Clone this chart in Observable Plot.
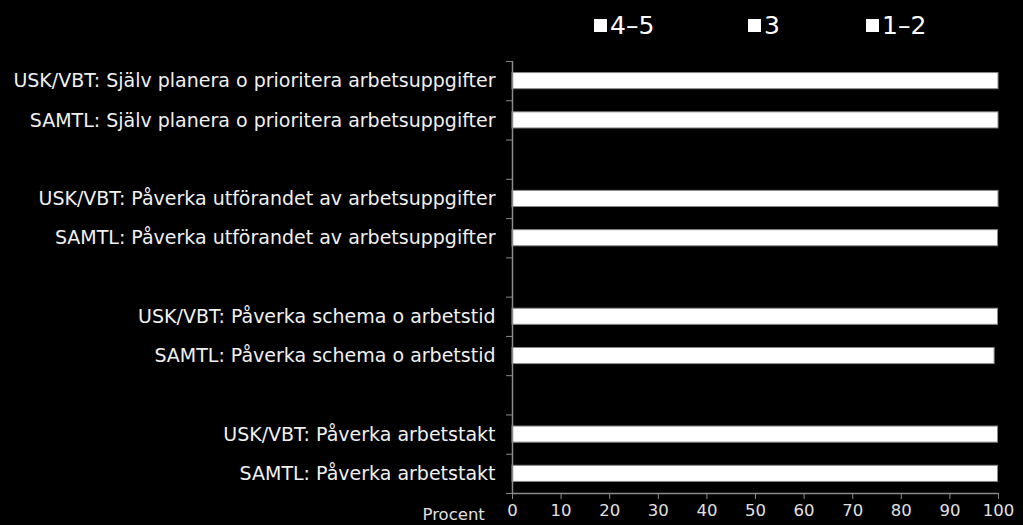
<!DOCTYPE html>
<html>
<head>
<meta charset="utf-8">
<script src="https://cdn.jsdelivr.net/npm/d3@7"></script>
<script src="https://cdn.jsdelivr.net/npm/@observablehq/plot@0.6"></script>
<style>
  html, body { margin: 0; padding: 0; background: #000; }
  #wrap { position: relative; width: 1023px; height: 525px; background: #000; }
  #legend { position: absolute; top: 10px; left: 0; width: 1023px; height: 30px;
            font-family: "DejaVu Sans", sans-serif; font-size: 25px; color: #fff; }
  .item { position: absolute; top: 0; display: flex; align-items: center; height: 30px; }
  .sw { width: 13px; height: 13px; background: #fff; margin-right: 3px; }
</style>
</head>
<body>
<div id="wrap"><div id="legend"></div></div>
<script>
// Row categories (empty strings are gaps between groups)
const categories = [
  "USK/VBT: Själv planera o prioritera arbetsuppgifter",
  "SAMTL: Själv planera o prioritera arbetsuppgifter",
  "",
  "USK/VBT: Påverka utförandet av arbetsuppgifter",
  "SAMTL: Påverka utförandet av arbetsuppgifter",
  "",
  "USK/VBT: Påverka schema o arbetstid",
  "SAMTL: Påverka schema o arbetstid",
  "",
  "USK/VBT: Påverka arbetstakt",
  "SAMTL: Påverka arbetstakt"
];
// Total of stacked series (4–5, 3, 1–2); all segments are white so only totals are readable
const totals = [100, 100, null, 100, 99.9, null, 99.9, 99.2, null, 99.9, 99.9];
const legendLabels = ["4–5", "3", "1–2"];
const xTicks = [0, 10, 20, 30, 40, 50, 60, 70, 80, 90, 100];

const rows = categories.map((c, i) => ({i, c, v: totals[i]})).filter(d => d.v != null);
const idx = categories.map((c, i) => i);
const bounds = d3.range(categories.length + 1).map(i => i - 0.5);

const font = "DejaVu Sans, sans-serif";
const plot = Plot.plot({
  width: 1023,
  height: 525,
  marginLeft: 512,
  marginRight: 25,
  marginTop: 61,
  marginBottom: 32,
  style: {background: "#000", color: "#fff", fontFamily: font},
  x: {domain: [0, 100]},
  y: {domain: [-0.5, categories.length - 0.5], reverse: true},
  marks: [
    Plot.rectX(rows, {x1: () => 0, x2: "v", y1: d => d.i - 0.205, y2: d => d.i + 0.205,
      fill: "#fff", stroke: "#8a8a8a", strokeWidth: 1}),
    Plot.ruleX([0], {stroke: "#8a8a8a", strokeWidth: 1.5}),
    Plot.ruleY([categories.length - 0.5], {stroke: "#8a8a8a", strokeWidth: 1.5}),
    Plot.axisY({ticks: bounds, tickSize: 6, tickFormat: () => "", stroke: "#8a8a8a"}),
    Plot.axisY({ticks: idx, tickSize: 0, tickPadding: 17, tickFormat: i => categories[i],
      fontSize: 19, fill: "#f0f0f0"}),
    Plot.axisX({ticks: xTicks, tickSize: 6, tickPadding: 5, fontSize: 16.5, fill: "#e0e0e0",
      stroke: "#8a8a8a", label: null}),
    Plot.text(["Procent"], {frameAnchor: "bottom-left", dx: -90, dy: 21, fontSize: 16.5,
      fill: "#e0e0e0", textAnchor: "start", lineAnchor: "middle"})
  ]
});
document.getElementById("wrap").appendChild(plot);

const legendX = [594, 748, 866];
const lg = document.getElementById("legend");
legendLabels.forEach((l, k) => {
  const it = document.createElement("div");
  it.className = "item";
  it.style.left = legendX[k] + "px";
  it.innerHTML = `<div class="sw"></div><span>${l}</span>`;
  lg.appendChild(it);
});
</script>
</body>
</html>
